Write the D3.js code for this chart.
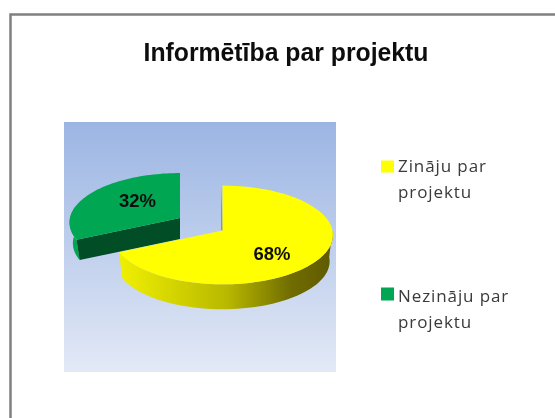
<!DOCTYPE html>
<html><head><meta charset="utf-8">
<style>html,body{margin:0;padding:0;background:#fff}svg{display:block}</style>
<script src="https://cdn.jsdelivr.net/npm/d3@7/dist/d3.min.js"></script>
</head><body><svg id="c" width="555" height="418"></svg>
<script>
const categories = ["Zināju par projektu", "Nezināju par projektu"];
const values = [68, 32];
const legendLines = [["Zināju par", "projektu"], ["Nezināju par", "projektu"]];
const sliceColors = ["#ffff00", "#00a651"];
const titleText = "Informētība par projektu";

const svg = d3.select("#c");
const defs = svg.append("defs");
defs.append("filter").attr("id","soft").append("feGaussianBlur").attr("stdDeviation",0.5);
const bg = defs.append("linearGradient").attr("id","bg").attr("x1",0).attr("x2",0).attr("y1",0).attr("y2",1);
bg.append("stop").attr("offset",0).attr("stop-color","#9bb5e3");
bg.append("stop").attr("offset",1).attr("stop-color","#e3e9f6");
const sideGrad = defs.append("linearGradient").attr("id","side").attr("gradientUnits","userSpaceOnUse")
  .attr("x1",123).attr("x2",332).attr("y1",0).attr("y2",0);
sideGrad.append("stop").attr("offset",0).attr("stop-color","#eeee00");
sideGrad.append("stop").attr("offset",.5).attr("stop-color","#b8b800");
sideGrad.append("stop").attr("offset",.8).attr("stop-color","#716d00");
sideGrad.append("stop").attr("offset",1).attr("stop-color","#5f5a00");

const root = svg.append("g").attr("filter","url(#soft)");
root.append("path").attr("d","M10.5 418V14.5H555").attr("fill","none").attr("stroke","#808080").attr("stroke-width",2.5);
root.append("text").attr("x",286).attr("y",61).attr("text-anchor","middle")
  .attr("font-family","'Liberation Sans',Arial,sans-serif").attr("font-weight",700).attr("font-size",25.5)
  .attr("textLength",285).attr("lengthAdjust","spacingAndGlyphs").attr("fill","#111").text(titleText);
root.append("rect").attr("x",64).attr("y",122).attr("width",272).attr("height",250).attr("fill","url(#bg)");

// Pie geometry: d3.pie gives the angles; a slight perspective flattens the disc
const rx = 110, ry = 49, tilt = 0.09, lowerScale = 0.97;
const arcs = d3.pie().sort(null)(values);
const centers = [[222.5,230.5],[180,218]];
const depths = [26.5,21];
const pt = (c,a,f=1,dy=0)=>{
  const s = f/(1+tilt*Math.cos(a));
  return [c[0]+rx*Math.sin(a)*s, c[1]-ry*Math.cos(a)*s+dy];
};
const sweep = (a0,a1)=>d3.range(61).map(i=>a0+(a1-a0)*i/60);
const line = d3.line();
const rimPath = (c,a0,a1,d)=>{
  const s = sweep(a0,a1);
  return line(s.map(a=>pt(c,a)).concat(s.slice().reverse().map(a=>pt(c,a,lowerScale,d))))+"Z";
};
const drawTop = (i)=>root.append("path")
  .attr("d",line([centers[i]].concat(sweep(arcs[i].startAngle,arcs[i].endAngle).map(a=>pt(centers[i],a))))+"Z")
  .attr("fill",sliceColors[i]);

// green slice: outer rim then cut face then top
{
  const c=centers[1], d=depths[1], a=arcs[1];
  root.append("path").attr("d",rimPath(c,a.startAngle,3*Math.PI/2+0.25,d)).attr("fill","#00a651");
  root.append("path").attr("d",line([c,pt(c,a.startAngle),pt(c,a.startAngle,lowerScale,d),[c[0],c[1]+d]])+"Z").attr("fill","#004d26");
  drawTop(1);
}
// yellow slice: inner sliver, rim, top
{
  const c=centers[0], d=depths[0], a=arcs[0];
  root.append("path").attr("d",line([[c[0]-1,c[1]-44],[c[0]-1,c[1]],[c[0],c[1]]])+"Z").attr("fill","#6b6800");
  root.append("path").attr("d",rimPath(c,Math.PI/2,a.endAngle,d)).attr("fill","url(#side)");
  drawTop(0);
}
// data labels
const labelPos=[[272,260],[137.5,207]];
arcs.forEach((a,i)=>root.append("text").attr("x",labelPos[i][0]).attr("y",labelPos[i][1])
  .attr("text-anchor","middle").attr("font-family","'Liberation Sans',Arial,sans-serif")
  .attr("font-weight",700).attr("font-size",18.5).attr("textLength",37).attr("lengthAdjust","spacingAndGlyphs")
  .attr("fill","#111").text(a.value+"%"));
// legend
const legY=[172,302], swatchY=[160.5,287.5];
categories.forEach((n,i)=>{
  root.append("rect").attr("x",381).attr("y",swatchY[i]).attr("width",13).attr("height",i?13:12).attr("fill",sliceColors[i]);
  legendLines[i].forEach((t,j)=>root.append("text").attr("x",398).attr("y",legY[i]+j*26)
    .attr("font-family","'Open Sans',sans-serif").attr("font-size",17).attr("letter-spacing",0.9).attr("fill","#3a3a3a").text(t));
});
</script></body></html>
